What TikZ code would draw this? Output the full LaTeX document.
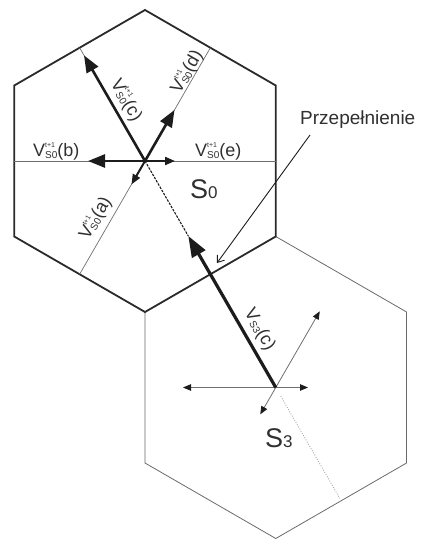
\documentclass[tikz,border=0pt]{standalone}
\usepackage{fontspec}
\setmainfont{Liberation Sans}
\usetikzlibrary{arrows.meta}
\definecolor{hexdark}{HTML}{2A2A2A}
\definecolor{hexlight}{HTML}{6A6A6A}
\definecolor{thingray}{HTML}{6E6E6E}
\definecolor{inkdark}{HTML}{1C1C1C}
\definecolor{txt}{HTML}{303030}
\newcommand{\vlab}[3]{V\rlap{\raisebox{9.5pt}{\fontsize{7}{7}\selectfont #1}}\raisebox{-1.5pt}{\fontsize{10}{10}\selectfont #2}(#3)}
\newcommand{\cellname}[1]{{\fontsize{27}{27}\selectfont S}{\fontsize{17}{17}\selectfont #1}}
\tikzset{
  hexS0/.style={draw=hexdark, line width=1.8pt, line join=miter},
  hexS3/.style={draw=hexlight, line width=0.8pt},
  thinline/.style={draw=thingray, line width=0.7pt},
  bigvec/.style={draw=inkdark, line width=2.6pt, -{Triangle[length=17pt,width=13pt]}},
  smallvec/.style={draw=inkdark, line width=2pt, -{Triangle[length=10pt,width=8pt]}},
  s3vec/.style={draw=inkdark, line width=3.2pt, -{Triangle[length=21pt,width=15pt]}},
  s3thin/.style={draw=thingray, line width=0.8pt, -{Triangle[length=8pt,width=6.5pt,color=inkdark]}},
  dashline/.style={draw=inkdark, line width=1.1pt, dash pattern=on 2.5pt off 1.2pt},
  dotline/.style={draw=gray!70, line width=0.8pt, dash pattern=on 1pt off 1.5pt},
  annot/.style={draw=inkdark, line width=0.9pt, -{Straight Barb[length=6pt,width=9pt]}},
  lab/.style={text=txt, inner sep=0pt, font=\fontsize{18}{18}\selectfont},
}
\begin{document}
\begin{tikzpicture}[x=1pt,y=-1pt]
\useasboundingbox (0,0) rectangle (422,540);
% S0 hexagon
\coordinate (C0) at (145,161);
\coordinate (T0) at (145,10);
\coordinate (UR0) at (275.77,85.5);
\coordinate (LR0) at (275.77,236.5);
\coordinate (B0) at (145,312);
\coordinate (LL0) at (14.23,236.5);
\coordinate (UL0) at (14.23,85.5);
% S3 hexagon
\coordinate (C3) at (275.77,387.5);
\coordinate (UR3) at (406.54,312);
\coordinate (LR3) at (406.54,463);
\coordinate (B3) at (275.77,538.5);
\coordinate (LL3) at (145,463);
% edge midpoints of S0
\coordinate (M0) at (275.77,161);
\coordinate (M60) at (210.39,47.75);
\coordinate (M120) at (79.61,47.75);
\coordinate (M180) at (14.23,161);
\coordinate (M240) at (79.61,274.25);
% vector tips
\coordinate (Tb) at (88,161);
\coordinate (Te) at (175,161);
\coordinate (Td) at (174.5,109.9);
\coordinate (Tc) at (84,55.35);
\coordinate (Ta) at (131.5,184.4);
\coordinate (Ts3) at (188.27,235.95);
\coordinate (S3l) at (183,387.5);
\coordinate (S3r) at (308,387.5);
\coordinate (S3d) at (319.77,311.3);
\coordinate (S3a) at (260.27,414.35);
\coordinate (Dot1) at (280.77,396.16);
\coordinate (Dot2) at (339.77,498.35);
\coordinate (AnS) at (310,135);
\coordinate (AnE) at (217,263);

\draw[hexS3] (LR0) -- (UR3) -- (LR3) -- (B3) -- (LL3) -- (B0);
\draw[hexS0] (T0) -- (UR0) -- (LR0) -- (B0) -- (LL0) -- (UL0) -- cycle;

\draw[thinline] (M180) -- (M0);
\draw[thinline] (M240) -- (M60);
\draw[thinline] (C0) -- (M120);
\draw[dashline] (C0) -- (Ts3);

\draw[bigvec] (C0) -- (Tb);
\draw[smallvec] (C0) -- (Te);
\draw[bigvec] (C0) -- (Td);
\draw[bigvec] (C0) -- (Tc);
\draw[smallvec] (C0) -- (Ta);

\draw[s3thin] (C3) -- (S3l);
\draw[s3thin] (C3) -- (S3r);
\draw[s3thin] (C3) -- (S3d);
\draw[s3thin] (C3) -- (S3a);
\draw[dotline] (Dot1) -- (Dot2);
\draw[s3vec] (C3) -- (Ts3);

\draw[annot] (AnS) -- (AnE);

\node[lab, anchor=base west] (lb) at (33,157) {\vlab{t+1}{S0}{b}};
\node[lab, anchor=base west] (le) at (195,157) {\vlab{t+1}{S0}{e}};
\node[lab, anchor=base, rotate=60] (ld) at (191.4,74.6) {\vlab{t+1}{S0}{d}};
\node[lab, anchor=base, rotate=-60] (lc) at (121.8,102.8) {\vlab{t+1}{S0}{c}};
\node[lab, anchor=base, rotate=60] (la) at (100,220.9) {\vlab{t+1}{S0}{a}};
\node[lab, anchor=base, rotate=-60] (ls3) at (255.4,332.3) {\vlab{}{S3}{c}};
\node[lab, anchor=base west, font=\fontsize{19}{19}\selectfont] (prz) at (300,125) {Przepełnienie};
\node[lab, anchor=base west] (s0) at (190,198) {\cellname{0}};
\node[lab, anchor=base west] (s3) at (265,447) {\cellname{3}};
\end{tikzpicture}
\end{document}
